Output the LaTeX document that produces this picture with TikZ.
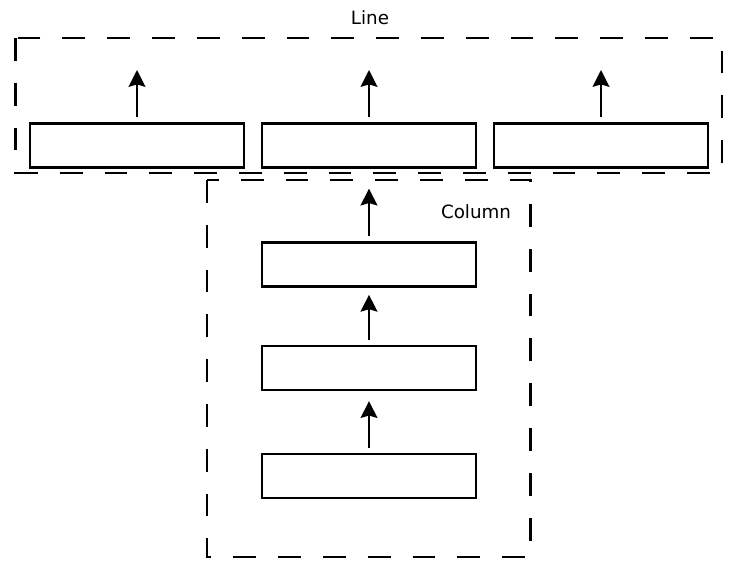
\documentclass[tikz,border=0pt]{standalone}
\usepackage{fontspec}
\setmainfont{DejaVu Sans}
\usetikzlibrary{arrows.meta,positioning}

\tikzset{
  block/.style={draw,line width=1.6pt,minimum width=5.35cm,minimum height=1.1cm,inner sep=0pt},
  group/.style={draw,line width=1.6pt,dash pattern=on 0.57cm off 0.55cm},
  arr/.style={-{Stealth[length=4.2mm,width=4.2mm,inset=0.6mm]},line width=1.6pt,shorten <=0.13cm},
  lbl/.style={font=\fontsize{13}{15}\selectfont}
}

\begin{document}
\begin{tikzpicture}[x=0.025cm,y=-0.025cm]
\useasboundingbox (0,0) rectangle (731,563);
% groups
\draw[group] (15.5,38) rectangle (722,173);
\draw[group] (207,180) rectangle (530.5,557);
\node[lbl] (linelbl) at (370,18) {Line};
\node[lbl] (collbl) at (476,212) {Column};
% line of blocks
\node[block] (l1) at (137,145.5) {};
\node[block] (l2) at (369,145.5) {};
\node[block] (l3) at (601,145.5) {};
\coordinate (o1) at (137,70);
\coordinate (o2) at (369,70);
\coordinate (o3) at (601,70);
% column of blocks
\node[block] (c1) at (369,476) {};
\node[block] (c2) at (369,368) {};
\node[block] (c3) at (369,264.5) {};
% arrows
\draw[arr] (l1.north) -- (o1);
\draw[arr] (l2.north) -- (o2);
\draw[arr] (l3.north) -- (o3);
\draw[arr,shorten >=0.25cm] (c1.north) -- (c2.south);
\draw[arr,shorten >=0.18cm] (c2.north) -- (c3.south);
\draw[arr,shorten >=0.5cm] (c3.north) -- (l2.south);
\end{tikzpicture}
\end{document}
